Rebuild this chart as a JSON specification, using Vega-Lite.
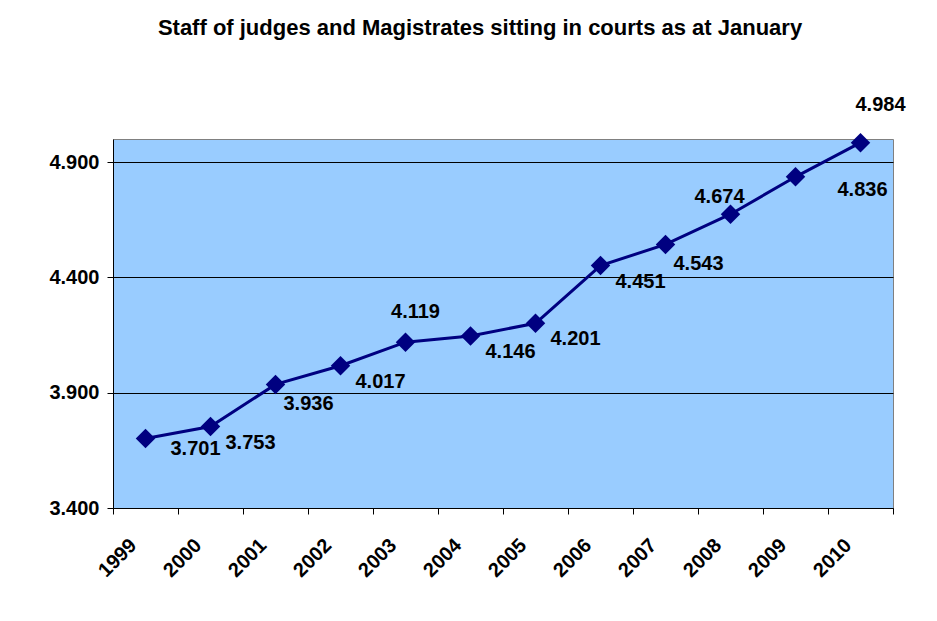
{
  "$schema": "https://vega.github.io/schema/vega-lite/v6.json",
  "width": 780,
  "height": 369,
  "autosize": {"type": "none"},
  "padding": {"left": 113, "top": 139, "right": 44, "bottom": 113},
  "background": "white",
  "title": {
    "text": "Staff of judges and Magistrates sitting in courts as at January",
    "font": "Liberation Sans",
    "fontSize": 22,
    "fontWeight": "bold",
    "color": "black",
    "anchor": "middle",
    "frame": "group",
    "offset": 55,
    "dx": -23
  },
  "data": {
    "values": [
      {"year": "1999", "value": 3701},
      {"year": "2000", "value": 3753},
      {"year": "2001", "value": 3936},
      {"year": "2002", "value": 4017},
      {"year": "2003", "value": 4119},
      {"year": "2004", "value": 4146},
      {"year": "2005", "value": 4201},
      {"year": "2006", "value": 4451},
      {"year": "2007", "value": 4543},
      {"year": "2008", "value": 4674},
      {"year": "2009", "value": 4836},
      {"year": "2010", "value": 4984}
    ]
  },
  "encoding": {
    "x": {
      "field": "year",
      "type": "ordinal",
      "scale": {"type": "band", "paddingInner": 0, "paddingOuter": 0},
      "axis": {
        "title": null,
        "bandPosition": 1,
        "tickExtra": true,
        "labelAngle": -45,
        "labelAlign": "right",
        "labelBaseline": "middle",
        "labelOffset": -12,
        "labelPadding": 28,
        "tickSize": 6,
        "grid": false
      }
    },
    "y": {
      "field": "value",
      "type": "quantitative",
      "scale": {"domain": [3400, 5000], "nice": false, "zero": false},
      "axis": {
        "title": null,
        "values": [3400, 3900, 4400, 4900],
        "format": ",d",
        "grid": true,
        "tickSize": 6,
        "labelPadding": 8
      }
    }
  },
  "layer": [
    {"mark": {"type": "line", "color": "#000080", "strokeWidth": 3}},
    {"mark": {"type": "point", "shape": "diamond", "filled": true, "size": 380, "color": "#000080", "opacity": 1}},
    {
      "transform": [{"filter": "indexof(['2000','2002','2004','2005','2006'], datum.year) >= 0"}],
      "mark": {"type": "text", "dx": 40, "dy": 16, "font": "Liberation Sans", "fontSize": 20, "fontWeight": "bold", "color": "black", "align": "center", "baseline": "middle"},
      "encoding": {"text": {"field": "value", "type": "quantitative", "format": ",d"}}
    },
    {
      "transform": [{"filter": "indexof(['2001','2007'], datum.year) >= 0"}],
      "mark": {"type": "text", "dx": 33, "dy": 20, "font": "Liberation Sans", "fontSize": 20, "fontWeight": "bold", "color": "black", "align": "center", "baseline": "middle"},
      "encoding": {"text": {"field": "value", "type": "quantitative", "format": ",d"}}
    },
    {
      "transform": [{"filter": "datum.year == '1999'"}],
      "mark": {"type": "text", "dx": 50, "dy": 10, "font": "Liberation Sans", "fontSize": 20, "fontWeight": "bold", "color": "black", "align": "center", "baseline": "middle"},
      "encoding": {"text": {"field": "value", "type": "quantitative", "format": ",d"}}
    },
    {
      "transform": [{"filter": "datum.year == '2003'"}],
      "mark": {"type": "text", "dx": 10, "dy": -30, "font": "Liberation Sans", "fontSize": 20, "fontWeight": "bold", "color": "black", "align": "center", "baseline": "middle"},
      "encoding": {"text": {"field": "value", "type": "quantitative", "format": ",d"}}
    },
    {
      "transform": [{"filter": "datum.year == '2008'"}],
      "mark": {"type": "text", "dx": -11, "dy": -17, "font": "Liberation Sans", "fontSize": 20, "fontWeight": "bold", "color": "black", "align": "center", "baseline": "middle"},
      "encoding": {"text": {"field": "value", "type": "quantitative", "format": ",d"}}
    },
    {
      "transform": [{"filter": "datum.year == '2009'"}],
      "mark": {"type": "text", "dx": 67, "dy": 13, "font": "Liberation Sans", "fontSize": 20, "fontWeight": "bold", "color": "black", "align": "center", "baseline": "middle"},
      "encoding": {"text": {"field": "value", "type": "quantitative", "format": ",d"}}
    },
    {
      "transform": [{"filter": "datum.year == '2010'"}],
      "mark": {"type": "text", "dx": 20, "dy": -38, "font": "Liberation Sans", "fontSize": 20, "fontWeight": "bold", "color": "black", "align": "center", "baseline": "middle"},
      "encoding": {"text": {"field": "value", "type": "quantitative", "format": ",d"}}
    }
  ],
  "config": {
    "locale": {
      "number": {"decimal": ",", "thousands": ".", "grouping": [3], "currency": ["", " €"]}
    },
    "view": {"fill": "#99CCFF", "stroke": "#808080", "strokeWidth": 1},
    "axis": {
      "domainColor": "black",
      "domainWidth": 1,
      "tickColor": "black",
      "tickWidth": 1,
      "gridColor": "black",
      "gridWidth": 1,
      "gridOpacity": 1,
      "labelFont": "Liberation Sans",
      "labelFontSize": 20,
      "labelFontWeight": "bold",
      "labelColor": "black"
    }
  }
}
